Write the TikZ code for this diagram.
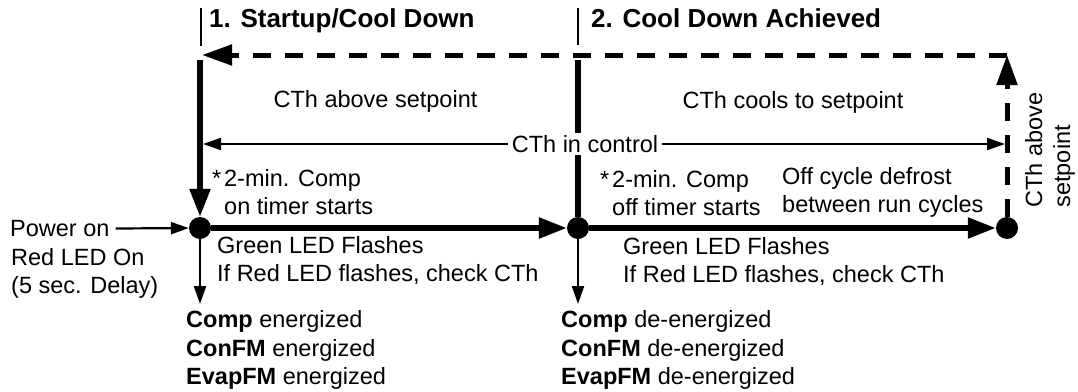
\documentclass[tikz,border=0pt]{standalone}
\usepackage{fontspec}
\setmainfont{Liberation Sans}
\usetikzlibrary{arrows.meta}

\begin{document}
\begin{tikzpicture}[x=1pt,y=-1pt,
  txt/.style={inner sep=0pt, align=left, font=\fontsize{23.5}{28}\selectfont},
  hdr/.style={inner sep=0pt, font=\fontsize{26}{30}\selectfont\bfseries},
  dot/.style={circle, fill=black, inner sep=0pt, minimum size=22pt},
  phaseline/.style={line width=2.2pt},
  heavy/.style={line width=5.5pt, -{Triangle[length=28pt,width=20pt]}},
  light/.style={line width=2.2pt, >={Triangle[length=18pt,width=12pt]}, ->},
  back/.style={line width=5pt, dash pattern=on 18pt off 14pt, -{Triangle[length=30pt,width=20pt]}}]
\path[use as bounding box] (0,0) rectangle (1078,391);

\coordinate (m1a) at (201,8);
\coordinate (m1b) at (201,46);
\coordinate (m2a) at (578,8);
\coordinate (m2b) at (578,45);
\draw[phaseline] (m1a) -- (m1b);
\draw[phaseline] (m2a) -- (m2b);
\node[hdr, anchor=base west] (h1) at (209,27.5) {1. Startup/Cool Down};
\node[hdr, anchor=base west] (h2) at (591,27.5) {2. Cool Down Achieved};

\node[dot] (d1) at (200,228) {};
\node[dot] (d2) at (578,228) {};
\node[dot] (d3) at (1007,228) {};

\coordinate (c1) at (202,55);
\coordinate (c3) at (1007,55);
\draw[back] (c3) -- (c1);
\draw[back] (d3) -- (c3);

\coordinate (v1) at (200,60);
\coordinate (v2) at (578,60);
\draw[heavy] (v1) -- (d1);
\draw[line width=5.5pt] (v2) -- (d2);
\draw[heavy] (d1) -- (d2);
\draw[heavy] (d2) -- (d3);

\node[txt, anchor=base] (a1) at (375.5,107) {CTh above setpoint};
\node[txt, anchor=base] (a2) at (793,108) {CTh cools to setpoint};

\coordinate (l1) at (203,144);
\coordinate (l2) at (1005,144);
\draw[light, <->] (l1) -- (l2);
\node[txt, fill=white, inner xsep=4pt, inner ysep=2pt] (ctl) at (585,144) {CTh in control};

\node[txt, rotate=90] (up) at (1050,150) {CTh above\\setpoint};

\node[txt, anchor=north west] (s1) at (224,169) {\llap{*\kern3pt}2-min. Comp\\on timer starts};
\node[txt, anchor=north west] (s2) at (612,170) {\llap{*\kern3pt}2-min. Comp\\off timer starts};
\node[txt, anchor=north west] (df) at (782,167) {Off cycle defrost\\between run cycles};

\node[txt, anchor=west] (pwr) at (10,228.5) {Power on};
\node[txt, anchor=north west] (led) at (11,248.2) {Red LED On\\(5 sec. Delay)};
\draw[light] ([xshift=6pt]pwr.east) -- (d1);

\node[txt, anchor=north west] (g1) at (217,236.2) {Green LED Flashes\\If Red LED flashes, check CTh};
\node[txt, anchor=north west] (g2) at (623,237) {Green LED Flashes\\If Red LED flashes, check CTh};

\coordinate (e1) at (200,304);
\coordinate (e2) at (578,304);
\draw[light] (d1) -- (e1);
\draw[light] (d2) -- (e2);

\node[txt, anchor=north west, font=\fontsize{23.5}{28.5}\selectfont] (on) at (186,310.7) {\textbf{Comp} energized\\\textbf{ConFM} energized\\\textbf{EvapFM} energized};
\node[txt, anchor=north west, font=\fontsize{23.5}{28.5}\selectfont] (off) at (561,310.7) {\textbf{Comp} de-energized\\\textbf{ConFM} de-energized\\\textbf{EvapFM} de-energized};
\end{tikzpicture}
\end{document}
